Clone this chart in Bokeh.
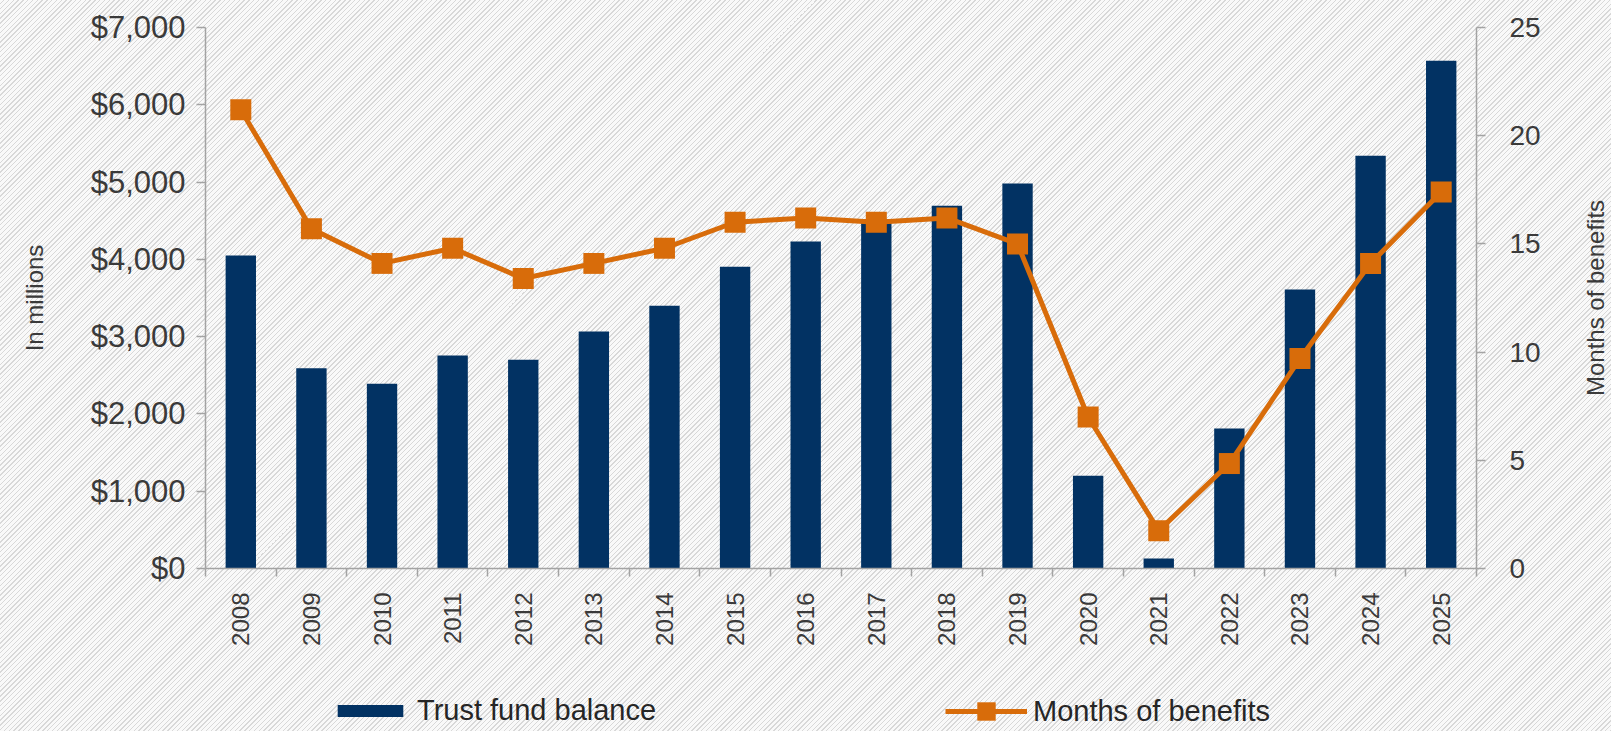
import math
from bokeh.plotting import figure
from bokeh.layouts import column, row
from bokeh.models import (Range1d, LinearAxis, FixedTicker, NumeralTickFormatter,
                          Legend, LegendItem)
from bokeh.embed import file_html
from bokeh.resources import INLINE

years = ["2008", "2009", "2010", "2011", "2012", "2013", "2014", "2015", "2016",
         "2017", "2018", "2019", "2020", "2021", "2022", "2023", "2024", "2025"]
balance = [4050, 2590, 2390, 2755, 2700, 3065, 3400, 3905, 4230,
           4520, 4695, 4980, 1200, 130, 1810, 3610, 5340, 6570]
months = [21.2, 15.7, 14.1, 14.8, 13.4, 14.1, 14.8, 16.0, 16.2,
          16.0, 16.2, 15.0, 7.0, 1.75, 4.85, 9.7, 14.1, 17.4]
left_ticks = [0, 1000, 2000, 3000, 4000, 5000, 6000, 7000]
right_ticks = [0, 5, 10, 15, 20, 25]
series_names = ["Trust fund balance", "Months of benefits"]
left_title = "In millions"
right_title = "Months of benefits"

NAVY = "#023263"
ORANGE = "#d86c0a"
GRID = "#a3a3a3"
TEXT = "#3a3a3a"
FONT = "Liberation Sans"

xpos = [i + 1 for i in range(len(years))]
bounds = [i + 0.5 for i in range(len(years) + 1)]

p = figure(width=1577, height=650, output_backend="svg", toolbar_location=None,
           x_range=Range1d(0.5, len(years) + 0.5), y_range=Range1d(0, 7000),
           min_border_left=205, min_border_right=101, min_border_top=27,
           min_border_bottom=82, x_axis_type=None, y_axis_type=None)
p.extra_y_ranges = {"months": Range1d(0, 25)}
p.background_fill_color = None
p.border_fill_color = None
p.outline_line_color = None

# axes
xaxis = LinearAxis(ticker=FixedTicker(ticks=xpos, minor_ticks=bounds),
                   major_label_overrides={x: y for x, y in zip(xpos, years)})
xaxis.major_label_orientation = math.pi / 2
xaxis.major_tick_out = 0
xaxis.major_tick_in = 0
xaxis.minor_tick_out = 8
xaxis.minor_tick_in = 0
xaxis.minor_tick_line_color = GRID
xaxis.minor_tick_line_width = 1.5
xaxis.axis_line_color = GRID
xaxis.axis_line_width = 1.5
xaxis.major_label_standoff = 16
xaxis.major_label_text_font = FONT
xaxis.major_label_text_font_size = "24px"
xaxis.major_label_text_color = TEXT
p.add_layout(xaxis, "below")

yaxis = LinearAxis(ticker=FixedTicker(ticks=left_ticks),
                   formatter=NumeralTickFormatter(format="$0,0"))
yaxis.axis_label = left_title
yaxis.axis_label_text_font = FONT
yaxis.axis_label_text_font_size = "24px"
yaxis.axis_label_text_font_style = "normal"
yaxis.axis_label_text_color = TEXT
yaxis.axis_label_standoff = 40
yaxis.major_label_text_font = FONT
yaxis.major_label_text_font_size = "31px"
yaxis.major_label_text_color = TEXT
yaxis.major_tick_out = 9
yaxis.major_tick_in = 0
yaxis.major_tick_line_color = GRID
yaxis.major_tick_line_width = 1.5
yaxis.minor_tick_line_color = None
yaxis.axis_line_color = GRID
yaxis.axis_line_width = 1.5
yaxis.major_label_standoff = 11
p.add_layout(yaxis, "left")

raxis = LinearAxis(y_range_name="months", ticker=FixedTicker(ticks=right_ticks))
raxis.major_label_text_font = FONT
raxis.major_label_text_font_size = "28px"
raxis.major_label_text_color = TEXT
raxis.major_tick_out = 9
raxis.major_tick_in = 0
raxis.major_tick_line_color = GRID
raxis.major_tick_line_width = 1.5
raxis.minor_tick_line_color = None
raxis.axis_line_color = GRID
raxis.axis_line_width = 1.5
raxis.major_label_standoff = 24
p.add_layout(raxis, "right")

p.ygrid.ticker = FixedTicker(ticks=left_ticks)
p.ygrid.grid_line_color = GRID
p.ygrid.grid_line_width = 2
p.xgrid.grid_line_color = None

p.vbar(x=xpos, top=balance, width=0.43, fill_color=NAVY, line_color=None)
p.line(x=xpos, y=months, y_range_name="months", line_color=ORANGE, line_width=5)
p.scatter(x=xpos, y=months, y_range_name="months", marker="square", size=21,
          fill_color=ORANGE, line_color=None)

# right-hand title strip: an axis label reading bottom-to-top, as in the chart
rf = figure(width=34, height=650, output_backend="svg", toolbar_location=None,
            x_range=Range1d(0, 1), y_range=Range1d(0, 25),
            min_border_left=31, min_border_right=0, min_border_top=27,
            min_border_bottom=82, x_axis_type=None, y_axis_type=None)
rf.background_fill_color = None
rf.border_fill_color = None
rf.outline_line_color = None
rf.xgrid.grid_line_color = None
rf.ygrid.grid_line_color = None
rt = LinearAxis(ticker=FixedTicker(ticks=[]))
rt.axis_label = right_title
rt.axis_label_text_font = FONT
rt.axis_label_text_font_size = "24px"
rt.axis_label_text_font_style = "normal"
rt.axis_label_text_color = TEXT
rt.axis_label_standoff = 0
rt.axis_line_color = None
rt.major_tick_line_color = None
rt.minor_tick_line_color = None
rt.major_label_text_font_size = "0px"
rf.add_layout(rt, "left")

# legend strip below the chart: same series and styles; its view window lies
# above all the data so only the legend swatches and labels show
lf = figure(width=1577, height=81, output_backend="svg", toolbar_location=None,
            x_range=p.x_range, y_range=Range1d(100000, 100001), min_border=0,
            x_axis_type=None, y_axis_type=None)
lf.background_fill_color = None
lf.border_fill_color = None
lf.outline_line_color = None
lf.xgrid.grid_line_color = None
lf.ygrid.grid_line_color = None
lbar = lf.vbar(x=xpos, top=balance, width=0.43, fill_color=NAVY, line_color=None)
lln = lf.line(x=xpos, y=months, line_color=ORANGE, line_width=5)
lsc = lf.scatter(x=xpos, y=months, marker="square", size=21, fill_color=ORANGE,
                 line_color=None)

common = dict(padding=0, margin=0, label_standoff=6, border_line_color=None,
              background_fill_color=None, label_text_font=FONT,
              label_text_font_size="29px", label_text_color="#262626",
              glyph_width=82)
leg1 = Legend(items=[LegendItem(label=series_names[0], renderers=[lbar])],
              location=(124, 4), glyph_height=15, **common)
leg2 = Legend(items=[LegendItem(label=series_names[1], renderers=[lln, lsc])],
              location=(740, -3), glyph_height=46, **common)
lf.add_layout(leg1, "center")
lf.add_layout(leg2, "center")

layout = row(column(p, lf, spacing=0), rf, spacing=0)
layout.styles = {"background": "repeating-linear-gradient(135deg, #f9f9f9 0px, #f9f9f9 2.4px, #d8d8d8 2.4px, #d8d8d8 3.4px)"}

open("out.html", "w").write(file_html(layout, INLINE))
